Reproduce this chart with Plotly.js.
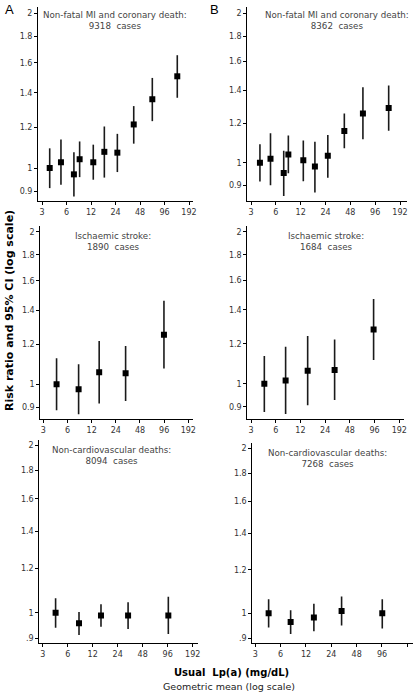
<!DOCTYPE html>
<html>
<head>
<meta charset="utf-8">
<script src="https://cdn.plot.ly/plotly-3.0.1.min.js"></script>
<style>html,body{margin:0;padding:0;background:#fff}#chart{width:414px;height:692px}</style>
</head>
<body>
<div id="chart"></div>
<script>
// ---------- DATA ----------
// Panel A (left), row 1: Non-fatal MI and coronary death
const xA1  = [3.73, 5.13, 7.4, 8.7, 12.8, 17.5, 25.3, 40.2, 68, 137.8];
const rrA1 = [1.00, 1.026, 0.972, 1.040, 1.026, 1.075, 1.071, 1.215, 1.36, 1.507];
const loA1 = [0.914, 0.928, 0.88, 0.96, 0.949, 0.958, 0.982, 1.115, 1.233, 1.369];
const hiA1 = [1.092, 1.136, 1.073, 1.126, 1.11, 1.204, 1.165, 1.319, 1.496, 1.656];
// Panel B (right), row 1
const xB1  = [3.85, 5.17, 7.48, 8.51, 12.92, 17.86, 25.6, 40.6, 68.2, 140];
const rrB1 = [1.00, 1.019, 0.953, 1.039, 1.011, 0.983, 1.033, 1.158, 1.257, 1.289];
const loB1 = [0.916, 0.901, 0.857, 0.952, 0.918, 0.871, 0.933, 1.069, 1.115, 1.16];
const hiB1 = [1.09, 1.147, 1.057, 1.135, 1.109, 1.102, 1.137, 1.257, 1.419, 1.43];
// Row 2: Ischaemic stroke
const xA2  = [4.39, 8.26, 14.9, 31.8, 95.5];
const rrA2 = [1.00, 0.978, 1.056, 1.051, 1.253];
const loA2 = [0.889, 0.873, 0.916, 0.927, 1.075];
const hiA2 = [1.125, 1.095, 1.217, 1.19, 1.462];
const xB2  = [4.36, 7.92, 14.7, 31.3, 93.4];
const rrB2 = [1.00, 1.015, 1.061, 1.064, 1.281];
const loB2 = [0.879, 0.871, 0.906, 0.928, 1.114];
const hiB2 = [1.134, 1.184, 1.243, 1.224, 1.471];
// Row 3: Non-cardiovascular deaths
const xA3  = [4.29, 8.21, 15.1, 32, 97.7];
const rrA3 = [1.00, 0.957, 0.989, 0.988, 0.989];
const loA3 = [0.94, 0.912, 0.944, 0.935, 0.916];
const hiA3 = [1.061, 1.003, 1.036, 1.044, 1.068];
const xB3  = [4.32, 7.89, 14.9, 31.8, 96.8];
const rrB3 = [1.00, 0.964, 0.983, 1.01, 1.00];
const loB3 = [0.942, 0.917, 0.927, 0.95, 0.938];
const hiB3 = [1.061, 1.013, 1.041, 1.073, 1.061];

const panelTitles = [
  ["Non-fatal MI and coronary death:", "9318\u00a0 cases"],
  ["Non-fatal MI and coronary death:", "8362\u00a0 cases"],
  ["Ischaemic stroke:", "1890\u00a0 cases"],
  ["Ischaemic stroke:", "1684\u00a0 cases"],
  ["Non-cardiovascular deaths:", "8094\u00a0 cases"],
  ["Non-cardiovascular deaths:", "7268\u00a0 cases"]
];
const xTicks = [3, 6, 12, 24, 48, 96, 192];
const xTickText = ["3", "6", "12", "24", "48", "96", "192"];
const yTicks = [0.9, 1, 1.2, 1.4, 1.6, 1.8, 2];
const yTickTextTop = ["0.9", "1", "1.2", "1.4", "1.6", "1.8", "2"];
const yTickTextBottom = [".9", "1", "1.2", "1.4", "1.6", "1.8", "2"];

// ---------- LAYOUT GEOMETRY (pixels) ----------
const W = 414, H = 692;
const geoms = [
  {x0: 38,    x1: 193,   x3: 42,    x192: 189,   yTop: 7,     yBot: 201,   y1: 168,   y2: 13,    tx: 115,   ty: 8},
  {x0: 247.3, x1: 407,   x3: 251,   x192: 400,   yTop: 7,     yBot: 201,   y1: 162.7, y2: 13.3,  tx: 336.5, ty: 8},
  {x0: 40.3,  x1: 193.3, x3: 43.3,  x192: 188.3, yTop: 226,   yBot: 419.3, y1: 384.3, y2: 231.7, tx: 112.7, ty: 229},
  {x0: 247.3, x1: 404,   x3: 251,   x192: 399.3, yTop: 226,   yBot: 419.3, y1: 383.7, y2: 231.7, tx: 326,   ty: 229},
  {x0: 39.3,  x1: 198.3, x3: 42.7,  x192: 192.7, yTop: 440,   yBot: 643.3, y1: 612.7, y2: 445,   tx: 111,   ty: 443},
  {x0: 252.3, x1: 413,   x3: 255.3, x192: 407.3, yTop: 442.7, yBot: 643.3, y1: 613.3, y2: 448.3, tx: 327.7, ty: 446}
];

const series = [
  [xA1, rrA1, loA1, hiA1], [xB1, rrB1, loB1, hiB1],
  [xA2, rrA2, loA2, hiA2], [xB2, rrB2, loB2, hiB2],
  [xA3, rrA3, loA3, hiA3], [xB3, rrB3, loB3, hiB3]
];

const FONT = "DejaVu Sans, Verdana, sans-serif";
const traces = [];
const layout = {
  width: W, height: H,
  margin: {l: 0, r: 0, t: 0, b: 0},
  paper_bgcolor: "#fff", plot_bgcolor: "rgba(0,0,0,0)",
  showlegend: false,
  font: {family: FONT, size: 8, color: "#333"},
  annotations: []
};

geoms.forEach((g, i) => {
  const n = i + 1;
  const xa = n === 1 ? "xaxis" : "xaxis" + n;
  const ya = n === 1 ? "yaxis" : "yaxis" + n;
  const [xs, rr, lo, hi] = series[i];
  traces.push({
    type: "scatter", mode: "markers",
    x: xs, y: rr,
    xaxis: "x" + (n === 1 ? "" : n), yaxis: "y" + (n === 1 ? "" : n),
    marker: {symbol: "square", size: 6, color: "#000"},
    error_y: {
      type: "data", symmetric: false,
      array: hi.map((h, k) => h - rr[k]),
      arrayminus: lo.map((l, k) => rr[k] - l),
      color: "#1a1a1a", thickness: 1.6, width: 0
    },
    hoverinfo: "skip"
  });
  const pxX = (g.x192 - g.x3) / (Math.log10(192) - Math.log10(3));
  const xr = [Math.log10(3) - (g.x3 - g.x0) / pxX, Math.log10(3) + (g.x1 - g.x3) / pxX];
  const pxY = (g.y1 - g.y2) / Math.log10(2);
  const yr = [-(g.yBot - g.y1) / pxY, (g.y1 - g.yTop) / pxY];
  layout[xa] = {
    type: "log", range: xr, domain: [g.x0 / W, g.x1 / W],
    anchor: "y" + (n === 1 ? "" : n),
    tickmode: "array", tickvals: xTicks, ticktext: xTickText,
    ticks: "outside", ticklen: 3, tickcolor: "#000", tickwidth: 1,
    showline: true, linecolor: "#000", linewidth: 1,
    showgrid: false, zeroline: false,
    tickfont: {family: FONT, size: 8, color: "#333"}
  };
  layout[ya] = {
    type: "log", range: yr, domain: [1 - g.yBot / H, 1 - g.yTop / H],
    anchor: "x" + (n === 1 ? "" : n),
    tickmode: "array", tickvals: yTicks, ticktext: i >= 4 ? yTickTextBottom : yTickTextTop,
    ticks: "outside", ticklen: 3, tickcolor: "#000", tickwidth: 1,
    showline: true, linecolor: "#000", linewidth: 1,
    showgrid: false, zeroline: false,
    tickfont: {family: FONT, size: 8, color: "#333"}
  };
  layout.annotations.push({
    xref: "paper", yref: "paper", x: g.tx / W, y: 1 - g.ty / H,
    xanchor: "center", yanchor: "top", showarrow: false, align: "center",
    text: panelTitles[i][0] + "<br>" + panelTitles[i][1],
    font: {family: FONT, size: 8.7, color: "#444"}
  });
});

layout.annotations.push(
  {xref: "paper", yref: "paper", x: 3 / W, y: 1, xanchor: "left", yanchor: "top", showarrow: false,
   text: "A", font: {family: "Liberation Sans, Arial, sans-serif", size: 13, color: "#000"}},
  {xref: "paper", yref: "paper", x: 208 / W, y: 1, xanchor: "left", yanchor: "top", showarrow: false,
   text: "B", font: {family: "Liberation Sans, Arial, sans-serif", size: 13, color: "#000"}},
  {xref: "paper", yref: "paper", x: 10 / W, y: 1 - 311 / H, xanchor: "center", yanchor: "middle", showarrow: false,
   textangle: -90, text: "<b>Risk ratio and 95% CI (log scale)</b>",
   font: {family: FONT, size: 11, color: "#000"}},
  {xref: "paper", yref: "paper", x: 231 / W, y: 1 - 672 / H, xanchor: "center", yanchor: "middle", showarrow: false,
   text: "<b>Usual&nbsp; Lp(a) (mg/dL)</b>", font: {family: FONT, size: 10, color: "#000"}},
  {xref: "paper", yref: "paper", x: 229 / W, y: 1 - 686 / H, xanchor: "center", yanchor: "middle", showarrow: false,
   text: "Geometric mean (log scale)", font: {family: FONT, size: 9.5, color: "#222"}}
);

Plotly.newPlot("chart", traces, layout, {staticPlot: true, displayModeBar: false});
</script>
</body>
</html>
